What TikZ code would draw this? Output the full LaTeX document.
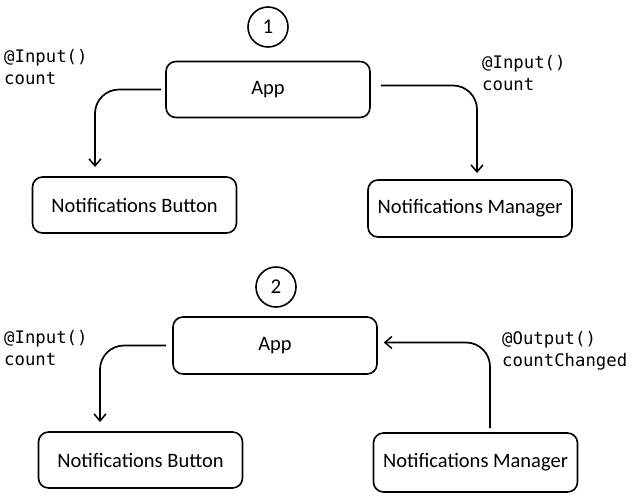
\documentclass[tikz,border=0pt]{standalone}
\usepackage{fontspec}
\setmainfont{Carlito}
\newfontfamily\codefont{DejaVu Sans Mono}
\usetikzlibrary{arrows.meta}
\begin{document}
\begin{tikzpicture}[x=1pt,y=-1pt,
  comp/.style={draw, line width=1.6pt, rounded corners=10pt, minimum width=204pt, minimum height=56pt, font=\fontsize{20.5}{24}\selectfont, inner sep=0pt},
  num/.style={draw, line width=1.6pt, circle, minimum size=40pt, inner sep=0pt, font=\fontsize{21}{24}\selectfont},
  code/.style={anchor=north west, align=left, inner sep=0pt, font=\codefont\fontsize{17.3}{22.5}\selectfont},
  arr/.style={line width=1.7pt, -{Straight Barb[length=7pt,width=12pt,line width=1.5pt]}, rounded corners=24pt}]
\useasboundingbox (0,0) rectangle (635,496);
% Diagram 1
\node[num] (c1) at (268,27) {1};
\node[comp] (app1) at (268,89.5) {App};
\node[comp] (nb1) at (134.5,205) {Notifications Button};
\node[comp, minimum height=57pt] (nm1) at (470,208.5) {Notifications Manager};
\node[code] (l1) at (4,49) {@Input()\\count};
\node[code] (r1) at (482,55) {@Input()\\count};
\coordinate (e1) at (95,167);
\coordinate (e2) at (477,173);
\draw[arr] ([xshift=-4pt]app1.west) -| (e1);
\draw[arr] ([xshift=10pt,yshift=4pt]app1.east) -| (e2);
% Diagram 2
\node[num] (c2) at (276,287) {2};
\node[comp, minimum height=57pt] (app2) at (275,345.5) {App};
\node[comp] (nb2) at (140.5,460) {Notifications Button};
\node[comp, minimum height=59pt] (nm2) at (475.5,462.5) {Notifications Manager};
\node[code] (l2) at (4,330) {@Input()\\count};
\node[code] (r2) at (502,331) {@Output()\\countChanged};
\coordinate (e3) at (100,422);
\coordinate (s4) at (490,428);
\draw[arr] ([xshift=-6pt]app2.west) -| (e3);
\draw[arr] (s4) |- ([xshift=6pt,yshift=3pt]app2.east);
\end{tikzpicture}
\end{document}
